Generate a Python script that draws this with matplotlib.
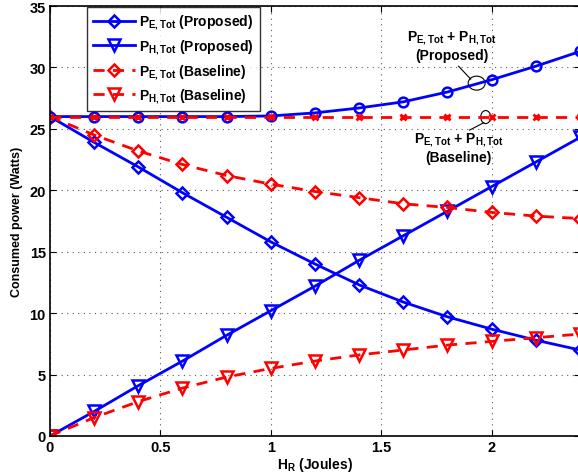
import matplotlib
matplotlib.use('Agg')
import matplotlib.pyplot as plt
from matplotlib.patches import Ellipse

plt.rcParams['font.family'] = ['Liberation Sans', 'DejaVu Sans']
plt.rcParams['font.weight'] = 'bold'
plt.rcParams['mathtext.fontset'] = 'custom'
plt.rcParams['mathtext.rm'] = 'Liberation Sans:bold'
plt.rcParams['mathtext.it'] = 'Liberation Sans:bold'
plt.rcParams['mathtext.bf'] = 'Liberation Sans:bold'

# H_R values (Joules)
h_r = [0, 0.2, 0.4, 0.6, 0.8, 1.0, 1.2, 1.4, 1.6, 1.8, 2.0, 2.2, 2.4]

# proposed scheme
p_e_prop = [26.0, 23.9, 21.9, 19.8, 17.8, 15.8, 14.0, 12.3, 10.9, 9.7, 8.7, 7.8, 7.0]
p_h_prop = [0.0, 2.0, 4.1, 6.1, 8.2, 10.2, 12.2, 14.3, 16.3, 18.3, 20.3, 22.3, 24.3]
p_sum_prop = [26.0, 26.0, 26.0, 26.0, 26.0, 26.05, 26.3, 26.7, 27.2, 28.0, 29.0, 30.1, 31.3]

# baseline scheme
p_e_base = [26.0, 24.5, 23.2, 22.1, 21.2, 20.5, 19.9, 19.4, 18.9, 18.6, 18.2, 17.9, 17.7]
p_h_base = [0.0, 1.5, 2.8, 3.9, 4.8, 5.5, 6.1, 6.6, 7.0, 7.4, 7.7, 8.0, 8.3]
p_sum_base = [26.0, 26.0, 26.0, 26.0, 26.0, 26.0, 26.0, 26.0, 26.0, 26.0, 26.0, 26.0, 26.0]

fig = plt.figure(figsize=(5.78, 4.77), dpi=100)
ax = fig.add_axes([50 / 578, 40 / 477, 530 / 578, 430 / 477])

blue = (0, 0, 1)
red = (1, 0, 0)

ax.plot(h_r, p_e_prop, '-', color=blue, lw=2, marker='D', ms=6.5, mfc='none', mew=1.8,
        label=r'$\mathbf{P_{E,Tot}}$ (Proposed)')
ax.plot(h_r, p_h_prop, '-', color=blue, lw=2, marker='v', ms=8, mfc='none', mew=1.8,
        label=r'$\mathbf{P_{H,Tot}}$ (Proposed)')
ax.plot(h_r, p_e_base, '--', color=red, lw=2, marker='D', ms=6.5, mfc='none', mew=1.8,
        dashes=(4, 3), label=r'$\mathbf{P_{E,Tot}}$ (Baseline)')
ax.plot(h_r, p_h_base, '--', color=red, lw=2, marker='v', ms=9, mfc='none', mew=1.8,
        dashes=(4, 3), label=r'$\mathbf{P_{H,Tot}}$ (Baseline)')
ax.plot(h_r, p_sum_prop, '-', color=blue, lw=2, marker='o', ms=7, mfc='none', mew=1.8)
ax.plot(h_r, p_sum_base, '--', color=red, lw=2, marker='x', ms=4, mew=2, dashes=(4, 3))

ax.set_xlim(0, 2.4)
ax.set_ylim(0, 35)
ax.set_xticks([0, 0.5, 1, 1.5, 2])
ax.set_xticklabels(['0', '0.5', '1', '1.5', '2'])
ax.set_yticks(range(0, 36, 5))
ax.tick_params(direction='in', top=True, right=True, labelsize=10.5, pad=3, length=4)
ax.grid(True, linestyle=(0, (1, 4)), color='0.35', lw=0.8)
ax.spines['right'].set_visible(False)
for s in ['left', 'bottom', 'top']:
    ax.spines[s].set_linewidth(1.2)

ax.set_xlabel(r'$\mathbf{H_R}$ (Joules)', fontsize=10, fontweight='bold')
ax.xaxis.set_label_coords(0.5, -0.045)
ax.set_ylabel('Consumed power (Watts)', fontsize=9, fontweight='bold')
ax.yaxis.set_label_coords(-0.05, 0.5)

leg = ax.legend(loc='upper left', bbox_to_anchor=(0.07, 0.998), fontsize=10,
                frameon=True, fancybox=False, handlelength=3.0, borderpad=0.45,
                labelspacing=0.45, handletextpad=0.3, borderaxespad=0)
leg.get_frame().set_edgecolor('black')
leg.get_frame().set_linewidth(1.0)

# annotations with ellipses
ax.text(1.82, 31.8, '$\\mathbf{P_{E,Tot}}$ + $\\mathbf{P_{H,Tot}}$\n(Proposed)', ha='center',
        va='center', fontsize=10, fontweight='bold', multialignment='center')
ax.add_patch(Ellipse((1.932, 28.72), 0.077, 1.14, fill=False, edgecolor='black', lw=0.8))
ax.plot([1.85, 1.905], [30.1, 29.05], color='black', lw=0.8)

ax.text(1.85, 23.5, '$\\mathbf{P_{E,Tot}}$ + $\\mathbf{P_{H,Tot}}$\n(Baseline)', ha='center',
        va='center', fontsize=10, fontweight='bold', multialignment='center')
ax.add_patch(Ellipse((1.973, 25.96), 0.045, 1.06, fill=False, edgecolor='black', lw=0.8))
ax.plot([1.964, 1.90], [25.5, 24.9], color='black', lw=0.8)

fig.savefig('out.png', dpi=100)
